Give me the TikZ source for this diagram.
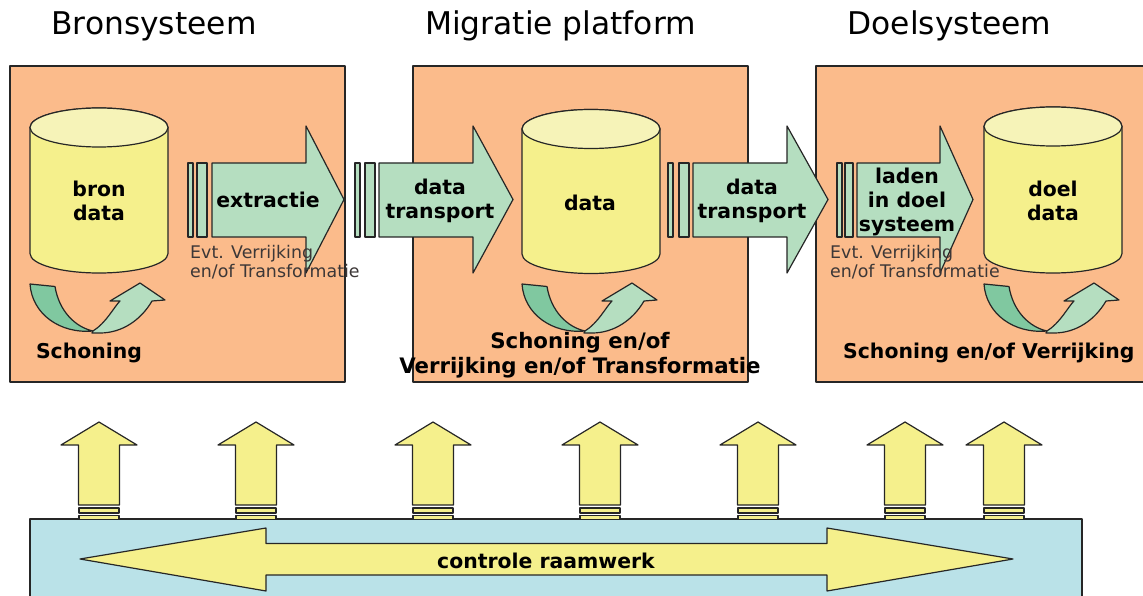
\documentclass[tikz,border=0pt]{standalone}
\usepackage{fontspec}
\setmainfont{DejaVu Sans}
\definecolor{boxorange}{RGB}{251,187,139}
\definecolor{mint}{RGB}{181,222,192}
\definecolor{darkmint}{RGB}{128,200,160}
\definecolor{cylbody}{RGB}{245,240,140}
\definecolor{cyltop}{RGB}{246,243,184}
\definecolor{ctrlblue}{RGB}{186,226,232}
\definecolor{evtgray}{RGB}{60,55,55}
\newcommand\mycyl[3]{%
  \draw[outl,fill=cylbody] ({#1-69},#2) -- ({#1-69},#3)
    arc[start angle=180,end angle=0,x radius=69,y radius=19.5] -- ({#1+69},#2)
    arc[start angle=0,end angle=-180,x radius=69,y radius=19.5] -- cycle;
  \draw[outl,fill=cyltop] (#1,#2) ellipse [x radius=69, y radius=19.5];}
\newcommand\mybars[3]{%
  \draw[outl,fill=mint] (#1,163) rectangle ++(5,74);
  \draw[outl,fill=mint] (#2,163) rectangle ++(#3,74);}
\newcommand\myblock[3]{%
  \draw[outl,fill=mint] (#1,163) -- (#2,163) -- (#2,126) -- (#3,199.5)
    -- (#2,273) -- (#2,237) -- (#1,237) -- cycle;}
\newcommand\myturn[1]{%
  \begin{scope}[xshift=#1pt]
  \draw[outl,fill=darkmint] (0,284) -- (25,286.5)
     .. controls (29,311) and (45,327) .. (63,331)
     .. controls (30,334) and (2,314) .. (0,284) -- cycle;
  \draw[outl,fill=mint] (63,331) .. controls (76,323) and (84,307) .. (90,301)
     -- (80,301) -- (110,283) -- (135,300) -- (122,301)
     .. controls (111,320) and (92,333) .. (70,333) -- (62,333) -- cycle;
  \end{scope}}
\newcommand\myup[1]{%
  \draw[outl,fill=cylbody] ({#1-20.5},505) -- ({#1-20.5},445) -- ({#1-38},445)
    -- (#1,422) -- ({#1+38},445) -- ({#1+20.5},445) -- ({#1+20.5},505) -- cycle;
  \draw[outl,fill=cylbody] ({#1-20},508) rectangle ({#1+20},513);
  \draw[outl,fill=cylbody] ({#1-20},515.5) rectangle ({#1+20},519.5);}
\begin{document}
\begin{tikzpicture}[x=1pt,y=-1pt,
  outl/.style={draw=black!85,line width=1.2pt,line join=round},
  title/.style={font=\fontsize{31.3}{36}\selectfont,inner sep=0pt,anchor=base},
  lbl/.style={font=\fontsize{20.4}{24}\bfseries\selectfont,align=center,inner sep=0pt},
  evt/.style={font=\fontsize{17.4}{19.5}\selectfont,text=evtgray,align=left,inner sep=0pt,anchor=north west}]
\useasboundingbox (0,0) rectangle (1143,596);
\clip (0,0) rectangle (1143,596);
% titles
\node[title] (t1) at (154,35) {Bronsysteem};
\node[title] (t2) at (560.5,35) {Migratie platform};
\node[title] (t3) at (949.5,35) {Doelsysteem};
% system boxes
\draw[outl,fill=boxorange] (10,66) rectangle (345,382);
\draw[outl,fill=boxorange] (413,66) rectangle (748,382);
\draw[outl,fill=boxorange] (816,66) rectangle (1165,382);
% cylinders
\mycyl{99}{127.5}{253.5}
\mycyl{591}{129}{254}
\mycyl{1053}{126.5}{253.5}
% turn arrows
\myturn{30}
\myturn{522}
\myturn{984}
% block arrows
\mybars{188}{197}{10}
\myblock{212}{306}{344}
\mybars{355}{365}{10}
\myblock{379}{473}{513}
\mybars{668}{679}{10}
\myblock{693}{787}{828}
\mybars{837}{845}{8}
\myblock{857}{940}{973}
% labels
\node[lbl] (l-bron) at (99,201) {bron\\data};
\node[lbl] (l-extr) at (268,200) {extractie};
\node[lbl] (l-tr1) at (440,201) {data\\transport};
\node[lbl] (l-data) at (590,203) {data};
\node[lbl] (l-tr2) at (752,201) {data\\transport};
\node[lbl] (l-laden) at (907,202) {laden\\in doel\\systeem};
\node[lbl] (l-doel) at (1053,201) {doel\\data};
\node[evt] (e1) at (190,245) {Evt. Verrijking\\en/of Transformatie};
\node[evt] (e2) at (830,245) {Evt. Verrijking\\en/of Transformatie};
\node[lbl] (s1) at (89,353) {Schoning};
\node[lbl,font=\fontsize{21.3}{25}\bfseries\selectfont] (s2) at (580,355) {Schoning en/of\\Verrijking en/of Transformatie};
\node[lbl,anchor=west] (s3) at (843,353) {Schoning en/of Verrijking};
% control framework
\draw[outl,fill=ctrlblue] (30,519) rectangle (1082,620);
\foreach \c in {99,256,433,600,758,905,1004} {\myup{\c}}
\draw[outl,fill=cylbody] (80,559) -- (266,528) -- (266,543.5) -- (827,543.5)
  -- (827,528) -- (1013,559) -- (827,591) -- (827,575) -- (266,575) -- (266,591) -- cycle;
\node[lbl] (ctrl) at (546,561) {controle raamwerk};
\end{tikzpicture}
\end{document}
